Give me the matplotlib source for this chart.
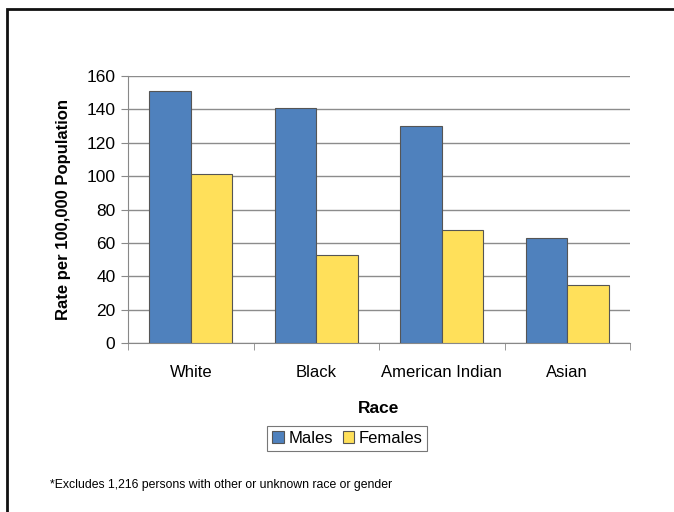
import matplotlib.pyplot as plt
import numpy as np
from matplotlib import font_manager
from matplotlib.patches import Rectangle

races = ["White", "Black", "American Indian", "Asian"]
males = [151, 141, 130, 63]
females = [101, 53, 68, 35]
y_ticks = [0, 20, 40, 60, 80, 100, 120, 140, 160]

names = {f.name for f in font_manager.fontManager.ttflist}
family = "Liberation Sans Narrow" if "Liberation Sans Narrow" in names else "Liberation Sans"
plt.rcParams["font.family"] = [family, "DejaVu Sans"]

fig = plt.figure(figsize=(6.74, 5.12), dpi=100)
ax = fig.add_axes([128 / 674, 1 - 343 / 512, 502 / 674, 267 / 512])

x = np.arange(len(races))
width = 0.33
ax.bar(x - width / 2, males, width, color="#4F81BD", edgecolor="#555555", linewidth=0.8,
       label="Males", zorder=3)
ax.bar(x + width / 2, females, width, color="#FFE05A", edgecolor="#555555", linewidth=0.8,
       label="Females", zorder=3)

ax.set_xlim(-0.5, len(races) - 0.5)
ax.set_ylim(0, 160)
ax.set_yticks(y_ticks)
ax.tick_params(axis="y", labelsize=12.5, length=5, color="#888888", pad=4)
ax.yaxis.grid(True, color="#8c8c8c", linewidth=1, zorder=0)
ax.set_xticks(x)
ax.set_xticklabels(races, fontsize=12)
ax.tick_params(axis="x", which="major", length=0, pad=16)
ax.set_xticks(np.arange(-0.5, len(races), 1), minor=True)
ax.tick_params(axis="x", which="minor", length=5, color="#888888")

for side in ["top", "right"]:
    ax.spines[side].set_visible(False)
for side in ["left", "bottom"]:
    ax.spines[side].set_color("#888888")

ax.set_ylabel("Rate per 100,000 Population", fontsize=12, fontweight="bold", labelpad=11)
ax.set_xlabel("Race", fontsize=12.5, fontweight="bold", labelpad=15)

leg = ax.legend(loc="upper center", bbox_to_anchor=(0.437, -0.28), ncol=2, fontsize=12,
                frameon=True, fancybox=False, edgecolor="#555555", handlelength=0.7,
                handleheight=0.7, handletextpad=0.25, columnspacing=0.6, borderpad=0.3)
leg.get_frame().set_linewidth(0.8)

fig.text(50 / 674, 1 - 485 / 512, "*Excludes 1,216 persons with other or unknown race or gender",
         fontsize=8.8, va="center", ha="left")

fig.patches.append(Rectangle((6.5 / 674, -0.05), 1.1, 1 - 9 / 512 + 0.05,
                             transform=fig.transFigure, fill=False, edgecolor="#111111",
                             linewidth=2))

fig.savefig("out.png", dpi=100)
